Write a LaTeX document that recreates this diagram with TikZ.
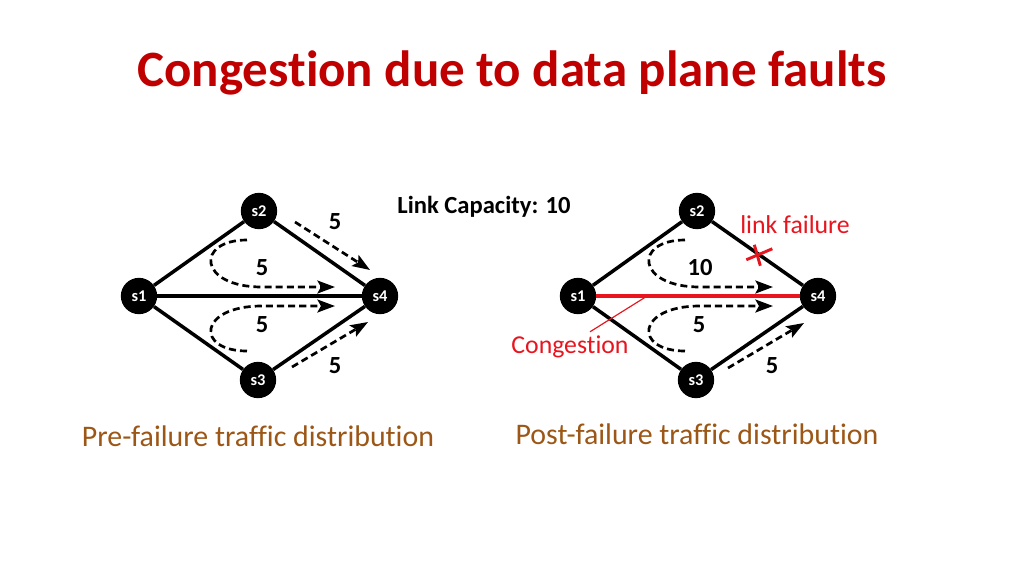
\documentclass[tikz,border=0pt]{standalone}
\usepackage{fontspec}
\setmainfont[Ligatures=NoCommon]{Carlito}
\usetikzlibrary{arrows.meta}
\definecolor{titlered}{RGB}{192,0,0}
\definecolor{capbrown}{RGB}{156,87,22}
\definecolor{failred}{RGB}{232,20,30}
\tikzstyle{switch} = [circle, fill=black, text=white, inner sep=0pt, minimum size=31pt, font=\bfseries\fontsize{14}{14}\selectfont]
\tikzstyle{link} = [line width=3pt]
\tikzstyle{flow} = [line width=2.3pt, dash pattern=on 6pt off 3.5pt, -{Stealth[length=15pt,width=11pt,inset=3pt]}]
\tikzstyle{rate} = [font=\bfseries\fontsize{21}{21}\selectfont]
\tikzstyle{caption} = [text=capbrown, font=\fontsize{25.5}{25.5}\selectfont]

\begin{document}
\begin{tikzpicture}[x=0.03cm,y=-0.03cm]
    \useasboundingbox (0,0) rectangle (1024,576);
    \node[text=titlered, font=\bfseries\fontsize{43.5}{43.5}\selectfont] (title) at (512,73) {Congestion due to data plane faults};
    \node[font=\bfseries\fontsize{21}{21}\selectfont] (cap) at (484,207) {Link Capacity: 10};

    % pre-failure
    \node[switch] (a1) at (139,296) {s1};
    \node[switch] (a2) at (259,211) {s2};
    \node[switch] (a3) at (258,380) {s3};
    \node[switch] (a4) at (380,296) {s4};
    \foreach \u/\v in {a1/a2,a1/a3,a1/a4,a2/a4,a3/a4}{
        \draw[link] (\u) -- (\v);
    }
    \coordinate (a2s) at (295,222);
    \coordinate (a2e) at (370,270);
    \coordinate (a3s) at (292,367);
    \coordinate (a3e) at (368,322);
    \coordinate (aus) at (247,240);
    \coordinate (aue) at (335,287);
    \coordinate (ads) at (247,351);
    \coordinate (ade) at (335,306);
    \draw[flow] (a2s) -- (a2e);
    \draw[flow] (a3s) -- (a3e);
    \draw[flow] (aus) .. controls (195,240) and (198,287) .. (262,287) -- (aue);
    \draw[flow] (ads) .. controls (195,351) and (198,306) .. (262,306) -- (ade);
    \node[rate] (ra2) at (335,222) {5};
    \node[rate] (rau) at (262,268) {5};
    \node[rate] (rad) at (262,325) {5};
    \node[rate] (ra3) at (335,366) {5};
    \node[caption] (capa) at (258,436) {Pre-failure traffic distribution};

    % post-failure
    \node[switch] (b1) at (578,296) {s1};
    \node[switch] (b2) at (697,211) {s2};
    \node[switch] (b3) at (696,380) {s3};
    \node[switch] (b4) at (818,296) {s4};
    \foreach \u/\v in {b1/b2,b1/b3,b2/b4,b3/b4}{
        \draw[link] (\u) -- (\v);
    }
    \draw[failred, line width=4pt] (b1) -- (b4) coordinate[pos=0.25] (hot);
    \coordinate (b3s) at (728,368);
    \coordinate (b3e) at (804,323);
    \coordinate (bus) at (685,240);
    \coordinate (bue) at (773,287);
    \coordinate (bds) at (685,351);
    \coordinate (bde) at (773,306);
    \draw[flow] (b3s) -- (b3e);
    \draw[flow] (bus) .. controls (633,240) and (636,287) .. (700,287) -- (bue);
    \draw[flow] (bds) .. controls (633,351) and (636,306) .. (700,306) -- (bde);
    \node[rate] (rbu) at (700,268) {10};
    \node[rate] (rbd) at (699,325) {5};
    \node[rate] (rb3) at (772,366) {5};

    % failure and congestion marks
    \path (b2) -- (b4) coordinate[pos=0.52] (cut);
    \draw[failred, line width=2.5pt] ([shift={(-13,5)}]cut) -- ([shift={(13,-6)}]cut);
    \draw[failred, line width=2.5pt] ([shift={(-5,-10)}]cut) -- ([shift={(1,11)}]cut);
    \node[text=failred, font=\fontsize{22}{22}\selectfont] (fail) at (795,225) {link failure};
    \node[text=failred, font=\fontsize{22}{22}\selectfont] (cong) at (570,347) {Congestion};
    \draw[failred, line width=1pt] (cong.north) ++(20,0) coordinate (cp) -- (hot);
    \node[caption] (capb) at (697,434) {Post-failure traffic distribution};
\end{tikzpicture}
\end{document}
